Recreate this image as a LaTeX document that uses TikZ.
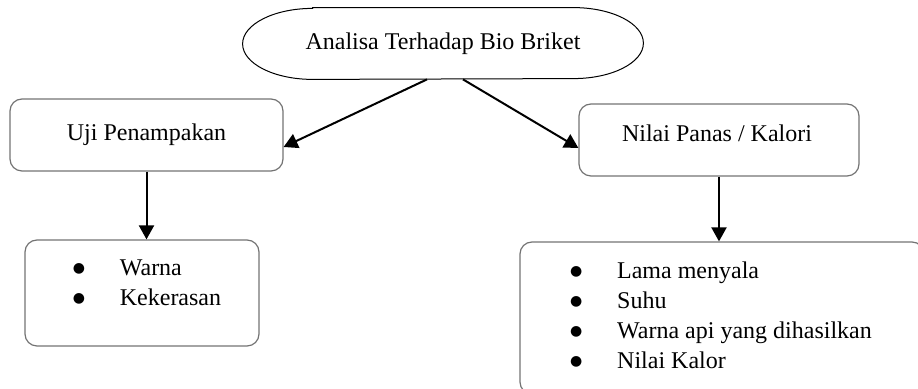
\documentclass[tikz,border=0pt]{standalone}
\usepackage{fontspec}
\setmainfont{Liberation Serif}
\newfontfamily\symfont{DejaVu Sans}
\usetikzlibrary{arrows.meta, positioning, calc}

\tikzset{
    box/.style={draw=black!55, line width=0.6pt, rounded corners=6pt},
    txt/.style={font=\fontsize{12}{15}\selectfont, inner sep=0pt},
    arr/.style={-{Triangle[length=7pt, width=7.5pt]}, line width=1pt},
}
% bullet with its hanging indent
\newcommand{\blt}{\makebox[23.5pt][l]{\raisebox{1.5pt}{\symfont\fontsize{7}{7}\selectfont ●}}}

\begin{document}
\begin{tikzpicture}[x=0.5pt, y=-0.5pt]
        \useasboundingbox (0,0) rectangle (918,389);
        \clip (0,0) rectangle (918,389);

        % Top terminator
        \node[txt, minimum width=200pt, minimum height=35.5pt] (title) at (443,43.5) {Analisa Terhadap Bio Briket};
        \draw[line width=0.5pt] ($(title.north west)+(35pt,0)$) -- ($(title.north east)-(35pt,0)$)
            arc[start angle=90, end angle=-90, x radius=35pt, y radius=17.75pt]
            -- ($(title.south west)+(35pt,0)$)
            arc[start angle=270, end angle=90, x radius=35pt, y radius=17.75pt] -- cycle;

        % Second level
        \node[box, txt, minimum width=136.5pt, minimum height=36pt] (uji) at (146.5,135) {Uji Penampakan};
        \node[box, minimum width=140pt, minimum height=36pt] (nilai) at (719,140) {};
        \node[txt] (nilaitxt) at (717,133) {Nilai Panas / Kalori};

        % Lists
        \node[box, minimum width=117pt, minimum height=53pt] (warnabox) at (142,293) {};
        \node[txt] (warnalist) at (147,285) {%
            \begin{tabular}{@{}l@{}l@{}}
                \blt & Warna\\
                \blt & Kekerasan
            \end{tabular}};

        \node[box, minimum width=202pt, minimum height=76pt] (kalorbox) at (722,318) {};
        \node[txt] (kalorlist) at (721,318) {%
            \begin{tabular}{@{}l@{}l@{}}
                \blt & Lama menyala\\
                \blt & Suhu\\
                \blt & Warna api yang dihasilkan\\
                \blt & Nilai Kalor
            \end{tabular}};

        % Arrows
        \draw[arr] ([xshift=-8pt]title.south) -- ([yshift=-6pt]uji.east);
        \draw[arr] ([xshift=10pt]title.south) -- ([yshift=-4pt]nilai.west);
        \draw[arr] (uji.south) -- (uji.south |- warnabox.north);
        \draw[arr] (nilai.south) -- (nilai.south |- kalorbox.north);

    \end{tikzpicture}
\end{document}
